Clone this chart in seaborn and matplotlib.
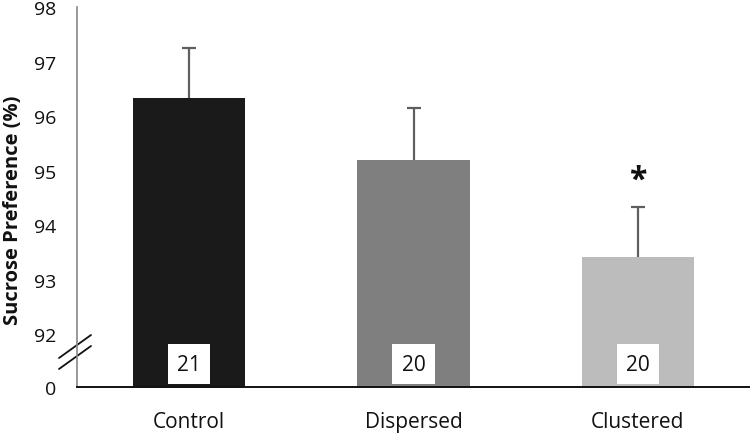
import pandas as pd
import matplotlib
matplotlib.use("Agg")
import matplotlib.pyplot as plt
import seaborn as sns

sns.set_theme(style="white")
plt.rcParams["font.family"] = ["Open Sans", "DejaVu Sans"]

# Values
groups = ["Control", "Dispersed", "Clustered"]
preference = [96.33, 95.19, 93.41]
sem = [0.92, 0.95, 0.92]
n_animals = [21, 20, 20]
bar_colors = ["#1a1a1a", "#7f7f7f", "#bcbcbc"]
y_ticks = [92, 93, 94, 95, 96, 97, 98]
y_floor = 91.03  # where the broken axis puts "0"

df = pd.DataFrame({"Group": groups, "Preference": preference})

fig = plt.figure(figsize=(7.5, 4.35), dpi=100)
ax = fig.add_axes([77 / 750, 47 / 435, 673 / 750, 380 / 435])

sns.barplot(data=df, x="Group", y="Preference", hue="Group",
            palette=bar_colors, width=0.5, legend=False, ax=ax,
            linewidth=0, errorbar=None, zorder=2)

# error bars sit behind the bars, so only the upper half shows
ax.errorbar(range(len(groups)), preference, yerr=sem,
            fmt="none", ecolor="#5f5f5f", elinewidth=1.6, capsize=5,
            capthick=1.6, zorder=1)

ax.set_ylim(y_floor, 98)
ax.set_xlim(-0.5, 2.5)
ax.set_yticks([y_floor] + y_ticks)
ax.set_yticklabels(["0"] + [str(t) for t in y_ticks])
ax.tick_params(axis="both", length=0, colors="#111111")
ax.tick_params(axis="x", pad=17, labelsize=15)
ax.tick_params(axis="y", pad=15, labelsize=14)
ax.set_xlabel("")
ax.set_ylabel("Sucrose Preference (%)", fontsize=14.5, fontweight="bold",
              color="#111111")
ax.yaxis.set_label_coords(-0.08, 0.468)

for side in ["top", "right"]:
    ax.spines[side].set_visible(False)
ax.spines["left"].set_color("#888888")
ax.spines["left"].set_linewidth(1.2)
ax.spines["bottom"].set_color("#111111")
ax.spines["bottom"].set_linewidth(1.4)

# axis break marks
for dy in [0, 11]:
    ax.plot([(59 - 77) / 673, (91 - 77) / 673],
            [(388 - 359 - dy) / 380, (388 - 336 - dy) / 380],
            transform=ax.transAxes, clip_on=False, color="#111111", lw=1.3)

# group sizes in white boxes
trans = ax.get_xaxis_transform()
for i, n in enumerate(n_animals):
    ax.text(i, 0.06, str(n), transform=trans, ha="center", va="center",
            fontsize=15, color="#111111", zorder=3,
            bbox=dict(boxstyle="square,pad=0.45", fc="white", ec="none"))

# significance marker
ax.text(2, 94.82, "*", ha="center", va="center", fontsize=23,
        fontweight="bold", color="#111111")

fig.savefig("out.png", dpi=100)
